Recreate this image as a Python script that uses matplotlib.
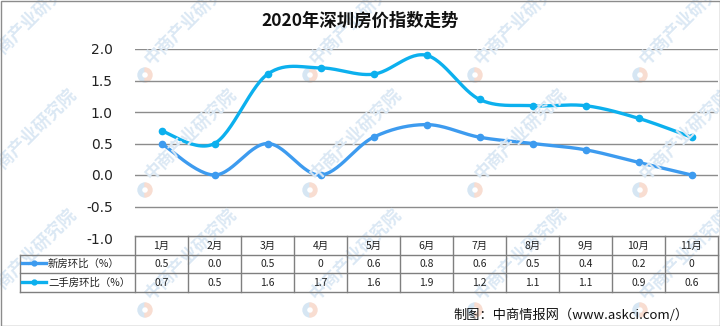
import matplotlib
matplotlib.use("Agg")
import matplotlib.pyplot as plt
import matplotlib.transforms as mtransforms
from matplotlib.patches import Wedge, Rectangle
from matplotlib.lines import Line2D
import numpy as np

plt.rcParams['font.family'] = ['Noto Sans CJK SC', 'DejaVu Sans']

months = ["1月", "2月", "3月", "4月", "5月", "6月", "7月", "8月", "9月", "10月", "11月"]
new_house = [0.5, 0.0, 0.5, 0.0, 0.6, 0.8, 0.6, 0.5, 0.4, 0.2, 0.0]
second_hand = [0.7, 0.5, 1.6, 1.7, 1.6, 1.9, 1.2, 1.1, 1.1, 0.9, 0.6]
new_labels = ["0.5", "0.0", "0.5", "0", "0.6", "0.8", "0.6", "0.5", "0.4", "0.2", "0"]
second_labels = ["0.7", "0.5", "1.6", "1.7", "1.6", "1.9", "1.2", "1.1", "1.1", "0.9", "0.6"]
series_names = ["新房环比（%）", "二手房环比（%）"]

c_new = "#3d9bef"
c_second = "#0cb0ee"

W, H = 720, 326
fig = plt.figure(figsize=(W / 100, H / 100), dpi=100)


def fx(px):
    return px / W


def fy(py):
    return 1 - py / H


# watermark
wm_color = "#dbe8f4"
for row_y in [75, 190, 310]:
    for col_x in [-15, 145, 310, 475, 640]:
        fig.text(fx(col_x + 9), fy(row_y - 7), "中商产业研究院", color=wm_color,
                 fontsize=12.5, fontweight="bold", rotation=45, ha="left", va="bottom",
                 rotation_mode="anchor", zorder=0)
        fig.add_artist(Wedge((col_x, H - row_y), 7, 90, 270, width=3.5,
                             transform=None, color="#d6e6f3", zorder=0))
        fig.add_artist(Wedge((col_x, H - row_y), 7, -90, 90, width=3.5,
                             transform=None, color="#f8ddd1", zorder=0))

ax = fig.add_axes([fx(135), fy(238), fx(718) - fx(135), fy(49) - fy(238)])
ax.patch.set_alpha(0)
ax.set_xlim(0, len(months))
ax.set_ylim(-1.0, 2.0)
ax.set_yticks(np.arange(-1.0, 2.01, 0.5))
ax.set_yticklabels([f"{v:.1f}" for v in np.arange(-1.0, 2.01, 0.5)],
                   fontsize=10, family="DejaVu Sans", color="#222222")
ax.set_xticks([])
ax.tick_params(axis="y", length=0, pad=16)
for s in ax.spines.values():
    s.set_visible(False)
ax.yaxis.grid(True, color="#8c8c8c", linewidth=1.0)
ax.set_axisbelow(True)


def smooth(xs, ys, n=30):
    # cubic bezier segments, control points from neighbouring points
    xs = np.asarray(xs, float)
    ys = np.asarray(ys, float)
    px = np.concatenate([[xs[0]], xs, [xs[-1]]])
    py = np.concatenate([[ys[0]], ys, [ys[-1]]])
    out_x, out_y = [], []
    t = np.linspace(0, 1, n)
    for i in range(1, len(xs)):
        p0 = np.array([px[i], py[i]])
        p3 = np.array([px[i + 1], py[i + 1]])
        c1 = p0 + (p3 - np.array([px[i - 1], py[i - 1]])) / 6
        c2 = p3 - (np.array([px[i + 2], py[i + 2]]) - p0) / 6
        b = ((1 - t) ** 3)[:, None] * p0 + (3 * (1 - t) ** 2 * t)[:, None] * c1 \
            + (3 * (1 - t) * t ** 2)[:, None] * c2 + (t ** 3)[:, None] * p3
        out_x.extend(b[:, 0])
        out_y.extend(b[:, 1])
    return out_x, out_y


xpos = np.arange(len(months)) + 0.5
for vals, col in [(new_house, c_new), (second_hand, c_second)]:
    sx, sy = smooth(xpos, vals)
    ax.plot(sx, sy, color=col, linewidth=2.4, solid_capstyle="round", zorder=3)
    ax.plot(xpos, vals, "o", color=col, markersize=4.5, zorder=4)

# data table under the plot
tr = mtransforms.blended_transform_factory(ax.transData, fig.transFigure)
line_kw = dict(color="#7f7f7f", linewidth=1.0)
rows_y = [236, 255, 273, 292]
fig.add_artist(Line2D([0, len(months)], [fy(rows_y[0])] * 2, transform=tr, **line_kw))
for ry in rows_y[1:]:
    fig.add_artist(Line2D([fx(20), fx(718)], [fy(ry)] * 2, **line_kw))
fig.add_artist(Line2D([fx(20), fx(20)], [fy(255), fy(292)], **line_kw))
for i in range(len(months) + 1):
    fig.add_artist(Line2D([i, i], [fy(236), fy(292)], transform=tr, **line_kw))

for i, m in enumerate(months):
    fig.text(i + 0.5, fy(246), m, transform=tr, ha="center", va="center",
             fontsize=7.5, color="#222222")
    fig.text(i + 0.5, fy(264), new_labels[i], transform=tr, ha="center", va="center",
             fontsize=7.5, color="#222222")
    fig.text(i + 0.5, fy(282.5), second_labels[i], transform=tr, ha="center", va="center",
             fontsize=7.5, color="#222222")

for ry, col, name in [(264, c_new, series_names[0]), (282.5, c_second, series_names[1])]:
    fig.add_artist(Line2D([fx(22), fx(46)], [fy(ry - 1)] * 2, color=col, linewidth=2.4))
    fig.add_artist(Line2D([fx(34)], [fy(ry - 1)], color=col, marker="o", markersize=3.5))
    fig.text(fx(48), fy(ry), name, ha="left", va="center", fontsize=7.5, color="#222222")

fig.text(0.5, fy(21), "2020年深圳房价指数走势", ha="center", va="center",
         fontsize=12.5, fontweight="bold", color="#111111")
fig.text(fx(453), fy(315), "制图：中商情报网（www.askci.com/）", ha="left", va="center",
         fontsize=9.5, color="#111111")

fig.add_artist(Rectangle((0.5 / W, 0.5 / H), 1 - 1 / W, 1 - 1 / H, fill=False,
                         edgecolor="#8c8c8c", linewidth=1.0, transform=fig.transFigure))

fig.savefig("out.png", dpi=100)
